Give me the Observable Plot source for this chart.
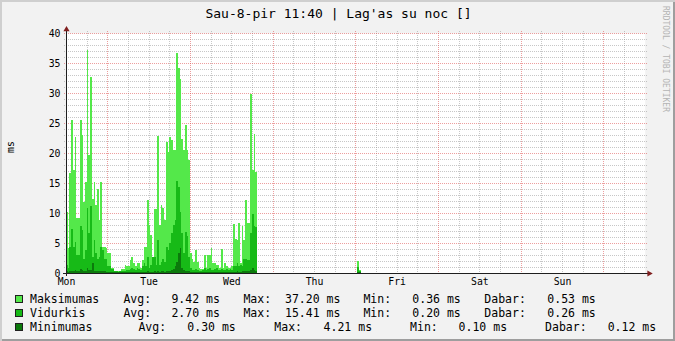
<!DOCTYPE html>
<html><head><meta charset="utf-8">
<script src="https://cdn.jsdelivr.net/npm/d3@7"></script>
<script src="https://cdn.jsdelivr.net/npm/@observablehq/plot@0.6"></script>
<style>
html,body{margin:0;padding:0;background:#F2F2F2;}
#chart{position:relative;width:675px;height:341px;background:#F2F2F2;box-shadow:inset 2px 2px 0 #CFCFCF, inset -2px -2px 0 #9E9E9E;overflow:hidden;font-family:"DejaVu Sans Mono",monospace;color:#000;}
#title{position:absolute;left:0;top:6px;width:677px;text-align:center;font-size:13px;line-height:16px;white-space:pre;}
#plot{position:absolute;left:0;top:0;}
#ylabel{position:absolute;left:11px;top:147px;font-size:9.8px;line-height:12px;transform:translate(-50%,-50%) rotate(-90deg);}
#wm{position:absolute;left:665px;top:59px;font-size:8px;line-height:10px;color:#B4B4B4;transform:translate(-50%,-50%) rotate(90deg);white-space:nowrap;}
.lg{position:absolute;font-size:11.5px;line-height:14px;white-space:pre;}
.box{position:absolute;width:6px;height:6px;border:1px solid #202020;}
</style>
</head><body>
<div id="chart">
  <div id="title"></div>
  <div id="plot"></div>
  <div id="ylabel"></div>
  <div id="wm"></div>
</div>
<script>
// ---- texts ----
const titleText = "Sau-8-pir 11:40 | Lag'as su noc []";
const yLabel = "ms";
const watermark = "RRDTOOL / TOBI OETIKER";
const dayNames = ["Mon","Tue","Wed","Thu","Fri","Sat","Sun"];
const yTicks = [0,5,10,15,20,25,30,35,40];

// ---- series (half-hour steps, hours from Mon 00:00) ----
const stepHours = 0.5;
const mainStartHour = 0;
const maxVals = [
10.2,4.2,16.6,25.5,17.2,22.7,9.1,9.1,25.5,23.0,
11.9,15.2,37.2,19.7,32.7,12.4,15.2,11.3,14.0,8.8,
15.1,4.4,4.4,4.2,3.3,3.3,0.8,0.8,0.4,0.4,
0.36,0.4,0.6,0.6,1.3,1.1,1.1,2.1,2.7,1.7,
1.1,1.7,1.7,0.8,2.2,4.4,4.4,12.2,8.0,6.3,
2.7,10.6,10.6,22.8,8.0,11.3,10.8,8.8,21.9,20.2,
22.7,22.2,20.5,20.5,36.7,34.1,32.3,22.4,20.5,24.7,
20.5,18.8,3.3,2.4,1.9,3.8,1.9,0.8,0.6,0.6,
3.0,0.8,3.0,3.0,4.1,1.6,1.7,1.3,1.3,0.8,
4.0,0.8,1.6,1.1,0.8,0.9,1.1,8.2,5.6,5.5,
8.4,1.6,7.8,5.5,12.2,8.3,8.4,29.8,17.2,23.1,16.9];
const avgVals = [
1.3,0.8,4.4,7.4,4.4,5.2,3.0,3.0,7.9,7.2,
2.4,3.8,10.9,6.6,11.1,2.6,5.5,3.3,2.4,2.7,
4.4,3.8,2.4,2.4,1.1,1.1,0.6,0.6,0.3,0.3,
0.2,0.3,0.3,0.3,0.4,0.5,0.5,0.6,0.8,0.6,
0.5,0.8,0.6,0.5,1.1,1.6,1.1,2.7,0.8,1.3,
2.7,2.7,1.3,5.5,1.3,1.9,2.4,1.9,4.4,3.8,
5.0,6.6,8.0,8.8,15.41,14.4,10.2,6.6,3.3,6.9,
6.1,2.7,0.8,0.5,0.5,0.6,0.5,0.4,0.4,0.5,
0.8,0.5,0.6,0.8,0.5,0.5,0.6,0.8,0.5,0.5,
0.6,0.5,0.5,0.6,0.5,0.6,0.5,1.1,1.2,1.6,
1.1,1.3,1.1,2.4,2.4,2.2,2.2,6.6,9.9,7.8,7.7];
const minVals = [
0.3,0.2,0.3,0.4,0.3,0.5,0.3,0.3,0.6,0.5,
0.3,0.4,0.8,0.5,0.5,1.6,0.4,0.3,0.3,0.3,
0.4,0.3,0.3,0.2,0.2,0.2,0.1,0.1,0.1,0.1,
0.1,0.1,0.1,0.1,0.1,0.1,0.1,0.2,0.2,0.1,
0.1,0.1,0.1,0.1,0.2,0.2,0.2,0.3,0.2,0.2,
0.2,0.3,0.2,0.4,0.2,0.3,0.3,0.2,0.4,0.3,
0.4,0.5,0.6,1.1,1.9,3.3,4.21,0.9,0.5,0.4,
0.4,0.3,0.2,0.1,0.1,0.2,0.1,0.1,0.1,0.1,
0.2,0.1,0.1,0.2,0.1,0.1,0.1,0.2,0.1,0.1,
0.2,0.1,0.1,0.1,0.1,0.1,0.1,0.2,0.2,0.3,
0.2,0.2,0.3,0.3,0.4,0.3,0.3,0.5,0.8,0.5,0.4];
// small blip on Thursday
const thuStartHour = 84.5;
const thuMax = [2.0,0.5];
const thuAvg = [0.95,0.3];
const thuMin = [0.2,0.1];

// ---- legend ----
const legendNames = ["Maksimumas","Vidurkis","Minimumas"];
const legendAvg = ["9.42 ms","2.70 ms","0.30 ms"];
const legendMax = ["37.20 ms","15.41 ms","4.21 ms"];
const legendMin = ["0.36 ms","0.20 ms","0.10 ms"];
const legendLast = ["0.53 ms","0.26 ms","0.12 ms"];

// ---- styles ----
const colors = ["#54E84A","#17BA17","#0C7A0C"];
const gridColor = "rgb(143,143,143)";
const mgridColor = "rgb(222,79,79)";
const axisColor = "#1F1F1F";
const arrowColor = "#801F1F";

function rows(start, vals){ return vals.map((v,i)=>({t: start + i*stepHours, v})); }
const seriesData = [
  rows(mainStartHour, maxVals).concat(rows(thuStartHour, thuMax)),
  rows(mainStartHour, avgVals).concat(rows(thuStartHour, thuAvg)),
  rows(mainStartHour, minVals).concat(rows(thuStartHour, thuMin))
];

const hoursTotal = 7*24;
const minorY = d3.range(1, 40).filter(v => v % 5 !== 0);
const majorY = d3.range(5, 41, 5);
const minorX = d3.range(6, hoursTotal, 6).filter(h => h % 24 !== 12);
const majorX = d3.range(12, hoursTotal, 24);
const dayTicks = d3.range(0, hoursTotal, 24);

const plot = Plot.plot({
  width: 675, height: 292,
  marginLeft: 66, marginRight: 30.33, marginTop: 33, marginBottom: 19,
  x: {domain: [0, hoursTotal]},
  y: {domain: [0, 40]},
  style: {background: "transparent", fontFamily: "'DejaVu Sans Mono', monospace", fontSize: "9.8px", color: "#000", overflow: "visible"},
  marks: [
    Plot.frame({fill: "#fff", stroke: "none"}),
    Plot.ruleY(minorY, {stroke: gridColor, strokeOpacity: 0.5, strokeDasharray: "1,1", insetLeft: -2, insetRight: -2, shapeRendering: "crispEdges"}),
    Plot.ruleX(minorX, {stroke: gridColor, strokeOpacity: 0.5, strokeDasharray: "1,1", insetTop: -2, insetBottom: -2, shapeRendering: "crispEdges"}),
    Plot.ruleY(majorY, {stroke: mgridColor, strokeOpacity: 0.55, strokeDasharray: "1,1", insetLeft: -2, insetRight: -2, shapeRendering: "crispEdges"}),
    Plot.ruleX(majorX, {stroke: mgridColor, strokeOpacity: 0.55, strokeDasharray: "1,1", insetTop: -2, insetBottom: -2, shapeRendering: "crispEdges"}),
    ...seriesData.map((data, k) => Plot.rectY(data, {x1: "t", x2: d => d.t + stepHours, y1: 0, y2: "v", fill: colors[k], shapeRendering: "crispEdges"})),
    Plot.ruleX([0], {stroke: axisColor, insetTop: -4, insetBottom: -3, shapeRendering: "crispEdges"}),
    Plot.ruleY([0], {stroke: axisColor, insetLeft: -3, insetRight: -3, shapeRendering: "crispEdges"}),
    Plot.dot([0], {x: d => d, frameAnchor: "top", symbol: "triangle", r: 2.3, fill: arrowColor, stroke: "none", dy: -4}),
    Plot.dot([0], {y: d => d, frameAnchor: "right", symbol: "triangle", r: 2.3, rotate: 90, fill: arrowColor, stroke: "none", dx: 4}),
    Plot.axisY({ticks: yTicks, tickSize: 0, tickPadding: 6, label: null}),
    Plot.axisX({ticks: dayTicks, tickFormat: d => dayNames[d/24], tickSize: 0, tickPadding: 5, label: null})
  ]
});
document.getElementById("plot").appendChild(plot);
document.getElementById("title").textContent = titleText;
document.getElementById("ylabel").textContent = yLabel;
document.getElementById("wm").textContent = watermark;

// legend layout
const legendRowY = [298.5, 313, 327];
const colsA = [30,123.4,171.4,243.4,285,363.4,412.3,484.3,547.3];
const colsB = [30,138.4,187.3,274.3,323.6,410.1,458.6,545.1,607.7];
const chart = document.getElementById("chart");
legendNames.forEach((name, r) => {
  const cols = r < 2 ? colsA : colsB;
  const parts = [name, "Avg:", legendAvg[r], "Max:", legendMax[r], "Min:", legendMin[r], "Dabar:", legendLast[r]];
  const box = document.createElement("div");
  box.className = "box";
  box.style.left = "15px";
  box.style.top = (legendRowY[r] - 4) + "px";
  box.style.background = colors[r];
  chart.appendChild(box);
  parts.forEach((p, j) => {
    const s = document.createElement("div");
    s.className = "lg";
    s.textContent = p;
    s.style.left = cols[j] + "px";
    s.style.top = (legendRowY[r] - 7) + "px";
    chart.appendChild(s);
  });
});
</script>
</body></html>
